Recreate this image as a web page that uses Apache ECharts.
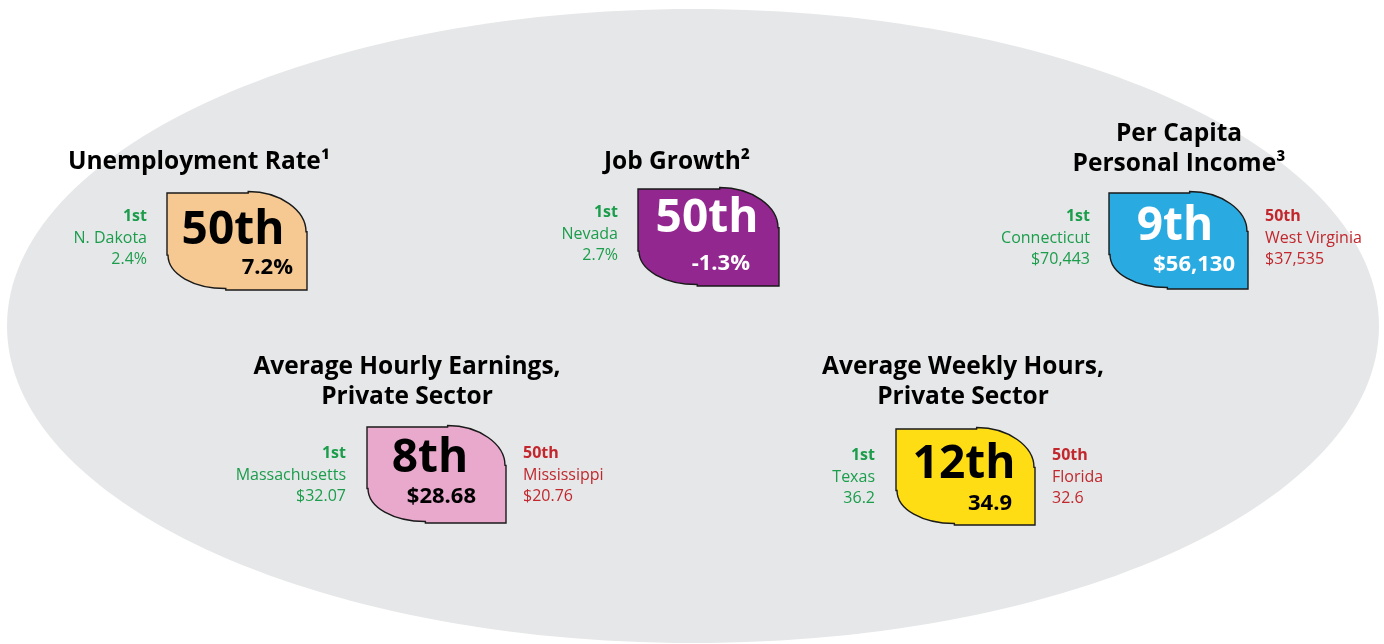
<!DOCTYPE html>
<html>
<head>
<meta charset="utf-8">
<script src="https://cdn.jsdelivr.net/npm/echarts@6/dist/echarts.min.js"></script>
<style>
  html, body { margin: 0; padding: 0; background: #fff; }
  #main { width: 1384px; height: 644px; }
</style>
</head>
<body>
<div id="main"></div>
<script>
// data
var metrics = ['Unemployment Rate¹', 'Job Growth²', 'Per Capita\nPersonal Income³',
    'Average Hourly Earnings,\nPrivate Sector', 'Average Weekly Hours,\nPrivate Sector'];
var ranks = ['50th', '50th', '9th', '8th', '12th'];
var values = ['7.2%', '-1.3%', '$56,130', '$28.68', '34.9'];
var firstStates = ['N. Dakota', 'Nevada', 'Connecticut', 'Massachusetts', 'Texas'];
var firstValues = ['2.4%', '2.7%', '$70,443', '$32.07', '36.2'];
var lastStates = [null, null, 'West Virginia', 'Mississippi', 'Florida'];
var lastValues = [null, null, '$37,535', '$20.76', '32.6'];

// layout (pixels)
var boxes = [[167, 193, 140, 97], [638, 189, 141, 97], [1109, 193, 139, 96], [367, 427, 139, 96], [896, 429, 139, 96]];
var titlePos = [[199, 162], [677, 162], [1179, 164], [407, 397], [963, 397]];
var rankPos = [[233, 231], [707, 219], [1175, 227], [430, 459], [964, 465]];
var valuePos = [[293, 268], [750, 264], [1235, 265], [476, 497], [1012, 504]];
var leftX = [147, 618, 1090, 346, 875];
var rightX = [null, null, 1265, 523, 1052];
var sideY = [216, 212, 216, 453, 455];
var fills = ['#f6c993', '#92278f', '#29abe2', '#e9a9cd', '#ffdd15'];
var inks = ['#000', '#fff', '#fff', '#000', '#000'];
var green = '#1b9d4c', red = '#c1272d';
var FONT = '"Open Sans", "Noto Sans", sans-serif';

function leafPath(b) {
    var x = b[0], y = b[1], w = b[2], h = b[3];
    var k = 0.552;
    var tx = x + 0.58 * w, ry = y + 0.4 * h;
    var bx = x + 0.42 * w, ly = y + 0.64 * h;
    return 'M' + x + ' ' + y +
        ' L' + tx + ' ' + y +
        ' L' + tx + ' ' + (y - 1.5) +
        ' C' + (tx + k * (x + w - 1 - tx)) + ' ' + (y - 1.5) + ' ' + (x + w - 1) + ' ' + (ry - k * (ry - y)) + ' ' + (x + w - 1) + ' ' + ry +
        ' L' + (x + w) + ' ' + ry +
        ' L' + (x + w) + ' ' + (y + h) +
        ' L' + bx + ' ' + (y + h) +
        ' L' + bx + ' ' + (y + h - 1.5) +
        ' C' + (bx - k * (bx - x - 1)) + ' ' + (y + h - 1.5) + ' ' + (x + 1) + ' ' + (ly + k * (y + h - ly)) + ' ' + (x + 1) + ' ' + ly +
        ' L' + x + ' ' + ly + ' Z';
}

function txt(text, x, y, color, size, weight, align) {
    return {
        type: 'text',
        style: {
            text: text, x: x, y: y, fill: color,
            fontSize: size, fontWeight: weight, fontFamily: FONT,
            align: align, verticalAlign: 'middle'
        }
    };
}

function renderItem(params, api) {
    var i = params.dataIndex;
    var children = [];
    // title
    var lines = metrics[i].split('\n');
    lines.forEach(function (line, j) {
        children.push(txt(line, titlePos[i][0], titlePos[i][1] - (lines.length - 1 - j) * 30, '#000', 24.5, 'bold', 'center'));
    });
    // badge
    children.push({
        type: 'path',
        shape: { pathData: leafPath(boxes[i]) },
        style: { fill: fills[i], stroke: '#1a1a1a', lineWidth: 1.4 }
    });
    children.push(txt(ranks[i], rankPos[i][0], rankPos[i][1], inks[i], 46, 'bold', 'center'));
    children.push(txt(values[i], valuePos[i][0], valuePos[i][1], inks[i], 22, 'bold', 'right'));
    // best state
    children.push(txt('1st', leftX[i], sideY[i], green, 16, 'bold', 'right'));
    children.push(txt(firstStates[i], leftX[i], sideY[i] + 22, green, 16, 'normal', 'right'));
    children.push(txt(firstValues[i], leftX[i], sideY[i] + 43, green, 16, 'normal', 'right'));
    // worst state
    if (lastStates[i]) {
        children.push(txt('50th', rightX[i], sideY[i], red, 16, 'bold', 'left'));
        children.push(txt(lastStates[i], rightX[i], sideY[i] + 22, red, 16, 'normal', 'left'));
        children.push(txt(lastValues[i], rightX[i], sideY[i] + 43, red, 16, 'normal', 'left'));
    }
    return { type: 'group', children: children };
}

var chart = echarts.init(document.getElementById('main'));
chart.setOption({
    backgroundColor: '#fff',
    animation: false,
    graphic: [{
        type: 'ellipse',
        shape: { cx: 693, cy: 326, rx: 686, ry: 317 },
        style: { fill: '#e6e7e8' },
        z: -1
    }],
    series: [{
        type: 'custom',
        coordinateSystem: 'none',
        renderItem: renderItem,
        data: metrics.map(function (m, i) { return i; })
    }]
});
</script>
</body>
</html>
